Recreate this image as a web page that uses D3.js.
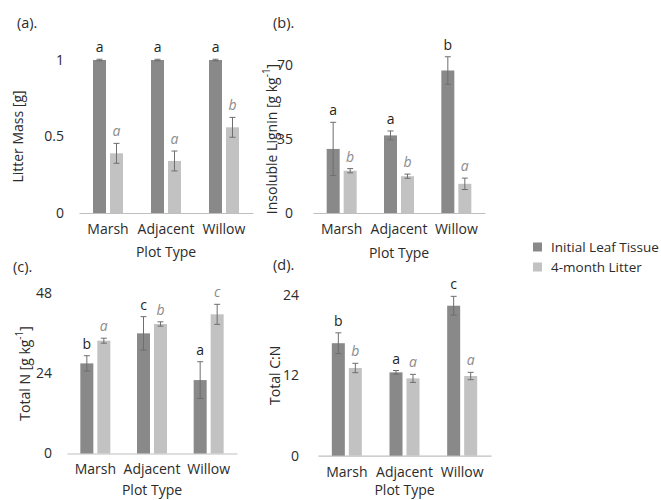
<!DOCTYPE html>
<html>
<head>
<meta charset="utf-8">
<script src="https://cdn.jsdelivr.net/npm/d3@7"></script>
<style>
  body { margin: 0; background: #fff; }
  text { font-family: "Open Sans", sans-serif; fill: #2b2b2b; }
</style>
</head>
<body>
<script>
// categories and series
var plots = ["Marsh", "Adjacent", "Willow"];
var series = ["Initial Leaf Tissue", "4-month Litter"];

// (a) litter mass [g]
var massInitial = [1, 1, 1];
var massInitialErr = [0.005, 0.005, 0.005];
var massLitter = [0.39, 0.34, 0.56];
var massLitterErr = [0.065, 0.065, 0.065];
var massInitialLetters = ["a", "a", "a"];
var massLitterLetters = ["a", "a", "b"];
var massTicks = [0, 0.5, 1];

// (b) insoluble lignin [g kg-1]
var ligninInitial = [30.3, 36.7, 67.4];
var ligninInitialErr = [12.6, 2.1, 6.5];
var ligninLitter = [20.0, 17.4, 13.8];
var ligninLitterErr = [1.0, 1.0, 2.7];
var ligninInitialLetters = ["a", "a", "b"];
var ligninLitterLetters = ["b", "b", "a"];
var ligninTicks = [0, 35, 70];

// (c) total N [g kg-1]
var nInitial = [27.0, 36.0, 22.0];
var nInitialErr = [2.3, 5.0, 5.5];
var nLitter = [33.8, 38.8, 41.7];
var nLitterErr = [0.75, 0.65, 3.0];
var nInitialLetters = ["b", "c", "a"];
var nLitterLetters = ["a", "b", "c"];
var nTicks = [0, 24, 48];

// (d) total C:N
var cnInitial = [16.8, 12.45, 22.4];
var cnInitialErr = [1.55, 0.27, 1.4];
var cnLitter = [13.1, 11.55, 11.9];
var cnLitterErr = [0.7, 0.6, 0.55];
var cnInitialLetters = ["b", "a", "c"];
var cnLitterLetters = ["b", "a", "a"];
var cnTicks = [0, 12, 24];

var colors = ["#898989", "#c2c2c2"];

function rows(init, initErr, litter, litterErr, initL, litterL) {
	return plots.map(function (p, i) {
		return [
			{plot: p, s: series[0], v: init[i], e: initErr[i], l: initL[i]},
			{plot: p, s: series[1], v: litter[i], e: litterErr[i], l: litterL[i]}
		];
	});
}

var panels = [
	{tag: "(a).", tagX: 17, tagY: 28, x0: 79, x1: 253, y0: 213, y1: 60, max: 1,
		ticks: massTicks, labelX: 64, titleX: 18, title: ["Litter Mass [g]"], plotDy: 44,
		data: rows(massInitial, massInitialErr, massLitter, massLitterErr, massInitialLetters, massLitterLetters)},
	{tag: "(b).", tagX: 273, tagY: 28, x0: 313, x1: 485, y0: 213, y1: 65, max: 70,
		ticks: ligninTicks, labelX: 293, titleX: 272, title: ["Insoluble Lignin [g kg", "-1", "]"], plotDy: 45,
		data: rows(ligninInitial, ligninInitialErr, ligninLitter, ligninLitterErr, ligninInitialLetters, ligninLitterLetters)},
	{tag: "(c).", tagX: 13, tagY: 272, x0: 67, x1: 237, y0: 453.5, y1: 293.3, max: 48,
		ticks: nTicks, labelX: 52, titleX: 25, title: ["Total N [g kg", "-1", "]"], plotDy: 41.5,
		data: rows(nInitial, nInitialErr, nLitter, nLitterErr, nInitialLetters, nLitterLetters)},
	{tag: "(d).", tagX: 273, tagY: 270, x0: 318, x1: 491, y0: 455.7, y1: 295, max: 24,
		ticks: cnTicks, labelX: 299, titleX: 275, title: ["Total C:N"], plotDy: 39.3,
		data: rows(cnInitial, cnInitialErr, cnLitter, cnLitterErr, cnInitialLetters, cnLitterLetters)}
];

var svg = d3.select("body").append("svg")
	.attr("width", 661)
	.attr("height", 500);

panels.forEach(function (p) {
	var g = svg.append("g");

	var x = d3.scaleBand().domain(plots).range([p.x0, p.x1]);
	var x1 = d3.scaleBand().domain(series).range([-15, 15]).paddingInner(0.235);
	var y = d3.scaleLinear().domain([0, p.max]).range([p.y0, p.y1]);

	// panel tag
	g.append("text")
		.attr("x", p.tagX)
		.attr("y", p.tagY)
		.style("font-size", "14.5px")
		.text(p.tag);

	// y tick labels
	var ya = g.append("g")
		.attr("transform", "translate(" + p.labelX + ",0)")
		.call(d3.axisLeft(y).tickValues(p.ticks).tickSize(0).tickPadding(0)
			.tickFormat(function (d) { return String(d); }));
	ya.select(".domain").remove();
	ya.selectAll("text").style("font-size", "14px").attr("fill", "#2b2b2b")
		.style("font-family", "'Open Sans', sans-serif");

	// x axis
	var xa = g.append("g")
		.attr("transform", "translate(0," + p.y0 + ")")
		.call(d3.axisBottom(x).tickSize(0).tickPadding(11));
	xa.select(".domain").attr("stroke", "#bfbfbf").attr("stroke-width", 1.2);
	xa.selectAll("text").style("font-size", "14px").attr("fill", "#2b2b2b")
		.style("font-family", "'Open Sans', sans-serif");

	g.append("text")
		.attr("x", (p.x0 + p.x1) / 2)
		.attr("y", p.y0 + p.plotDy)
		.attr("text-anchor", "middle")
		.style("font-size", "14px")
		.text("Plot Type");

	// y title
	var t = g.append("text")
		.attr("transform", "translate(" + (p.titleX + 5) + "," + ((p.y0 + p.y1) / 2) + ") rotate(-90)")
		.attr("text-anchor", "middle")
		.style("font-size", "14px");
	t.append("tspan").text(p.title[0]);
	if (p.title.length > 1) {
		t.append("tspan").attr("baseline-shift", "super").style("font-size", "10px").text(p.title[1]);
		t.append("tspan").text(p.title[2]);
	}

	// bars, error bars and letters
	var grp = g.selectAll("g.cat")
		.data(p.data)
		.enter().append("g")
		.attr("class", "cat")
		.attr("transform", function (d) { return "translate(" + (x(d[0].plot) + x.bandwidth() / 2) + ",0)"; });

	var item = grp.selectAll("g.item")
		.data(function (d) { return d; })
		.enter().append("g")
		.attr("class", "item");

	item.append("rect")
		.attr("x", function (d) { return x1(d.s); })
		.attr("width", x1.bandwidth())
		.attr("y", function (d) { return y(d.v); })
		.attr("height", function (d) { return y(0) - y(d.v); })
		.attr("fill", function (d, i) { return colors[i]; });

	var cx = function (d) { return x1(d.s) + x1.bandwidth() / 2; };

	item.append("line")
		.attr("x1", cx).attr("x2", cx)
		.attr("y1", function (d) { return y(d.v + d.e); })
		.attr("y2", function (d) { return y(d.v - d.e); })
		.attr("stroke", "#6e6e6e");

	[1, -1].forEach(function (sgn) {
		item.append("line")
			.attr("x1", function (d) { return cx(d) - 3; })
			.attr("x2", function (d) { return cx(d) + 3; })
			.attr("y1", function (d) { return y(d.v + sgn * d.e); })
			.attr("y2", function (d) { return y(d.v + sgn * d.e); })
			.attr("stroke", "#6e6e6e");
	});

	item.append("text")
		.attr("x", cx)
		.attr("y", function (d) { return y(d.v + d.e) - 7; })
		.attr("text-anchor", "middle")
		.style("font-size", "14px")
		.style("font-style", function (d, i) { return i === 1 ? "italic" : "normal"; })
		.style("fill", function (d, i) { return i === 1 ? "#8c8c8c" : "#1e1e1e"; })
		.text(function (d) { return d.l; });
});

// legend
var legend = svg.selectAll("g.legend")
	.data(series)
	.enter().append("g")
	.attr("class", "legend")
	.attr("transform", function (d, i) { return "translate(533," + (247 + i * 20) + ")"; });

legend.append("rect")
	.attr("x", 0).attr("y", -4.5)
	.attr("width", 9).attr("height", 9)
	.attr("fill", function (d, i) { return colors[i]; });

legend.append("text")
	.attr("x", 18)
	.attr("dy", "0.35em")
	.style("font-size", "13.5px")
	.text(function (d) { return d; });
</script>
</body>
</html>
